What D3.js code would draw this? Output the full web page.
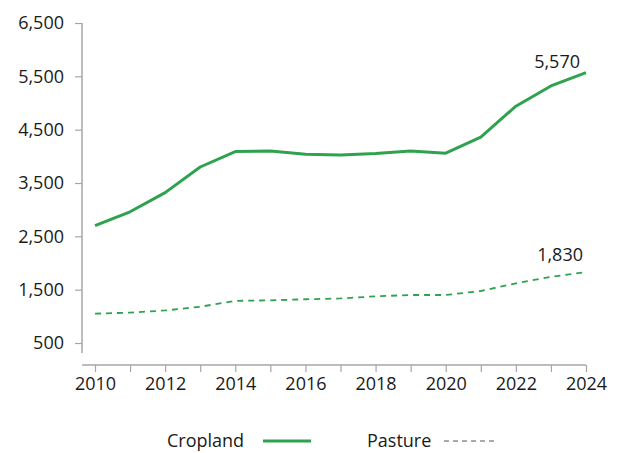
<!DOCTYPE html>
<html>
<head>
<meta charset="utf-8">
<script src="https://cdn.jsdelivr.net/npm/d3@7"></script>
<style>
  body { margin: 0; background: #fff; }
  svg { display: block; font-family: "Open Sans", sans-serif; }
  text { fill: #1a1a1a; }
</style>
</head>
<body>
<svg width="622" height="453"></svg>
<script>
const years = [2010, 2011, 2012, 2013, 2014, 2015, 2016, 2017, 2018, 2019, 2020, 2021, 2022, 2023, 2024];
const cropland = [2700, 2960, 3320, 3800, 4090, 4100, 4040, 4025, 4055, 4100, 4060, 4360, 4940, 5320, 5570];
const pasture = [1050, 1070, 1110, 1180, 1290, 1300, 1320, 1335, 1375, 1400, 1400, 1475, 1620, 1740, 1830];
const yTicks = [500, 1500, 2500, 3500, 4500, 5500, 6500];
const xTicks = [2010, 2012, 2014, 2016, 2018, 2020, 2022, 2024];

const green = '#2fa24f';
const axisGrey = '#a6a6a6';

const svg = d3.select('svg');

const x = d3.scaleLinear().domain([2010, 2024]).range([95, 586]);
const y = d3.scaleLinear().domain([500, 6500]).range([343, 23]);
const fmt = d3.format(',');

// y axis
const yAxis = svg.append('g')
  .attr('transform', 'translate(82,0)')
  .call(d3.axisLeft(y).tickValues(yTicks).tickSize(7).tickPadding(11).tickFormat(fmt));
yAxis.select('.domain').remove();
yAxis.append('line')
  .attr('x1', 0).attr('x2', 0)
  .attr('y1', y(6500)).attr('y2', y(500) + 10)
  .attr('stroke', axisGrey).attr('stroke-width', 1.5);

// x axis
const xAxis = svg.append('g')
  .attr('transform', 'translate(0,365)')
  .call(d3.axisBottom(x).ticks(14).tickSize(7).tickPadding(5)
    .tickFormat((d) => (xTicks.includes(d) ? d : '')));
xAxis.select('.domain').remove();
xAxis.append('line')
  .attr('x1', 82).attr('x2', x(2024))
  .attr('stroke', axisGrey).attr('stroke-width', 1.5);

svg.selectAll('.tick line').attr('stroke', axisGrey).attr('stroke-width', 1.2);
svg.selectAll('.tick text')
  .attr('font-size', 18)
  .attr('font-family', '"Open Sans", sans-serif')
  .attr('fill', '#1a1a1a');

const line = d3.line()
  .x((d, i) => x(years[i]))
  .y((d) => y(d));

svg.append('path')
  .datum(cropland)
  .attr('d', line)
  .attr('fill', 'none')
  .attr('stroke', green)
  .attr('stroke-width', 3)
  .attr('stroke-linejoin', 'round');

svg.append('path')
  .datum(pasture)
  .attr('d', line)
  .attr('fill', 'none')
  .attr('stroke', green)
  .attr('stroke-width', 1.8)
  .attr('stroke-dasharray', '6,5');

// end labels
const last = years.length - 1;
svg.append('text')
  .attr('x', x(years[last]) - 6)
  .attr('y', y(cropland[last]) - 5)
  .attr('text-anchor', 'end')
  .attr('font-size', 18)
  .text(fmt(cropland[last]));
svg.append('text')
  .attr('x', x(years[last]) - 3)
  .attr('y', y(pasture[last]) - 11)
  .attr('text-anchor', 'end')
  .attr('font-size', 18)
  .text(fmt(pasture[last]));

// legend
const legend = svg.append('g').attr('font-size', 18);
legend.append('text').attr('x', 167).attr('y', 447).text('Cropland');
legend.append('line')
  .attr('x1', 263).attr('x2', 311).attr('y1', 441).attr('y2', 441)
  .attr('stroke', green).attr('stroke-width', 3);
legend.append('text').attr('x', 367).attr('y', 447).text('Pasture');
legend.append('line')
  .attr('x1', 444).attr('x2', 494).attr('y1', 441).attr('y2', 441)
  .attr('stroke', '#5a524f').attr('stroke-width', 1)
  .attr('stroke-dasharray', '5,4');
</script>
</body>
</html>
